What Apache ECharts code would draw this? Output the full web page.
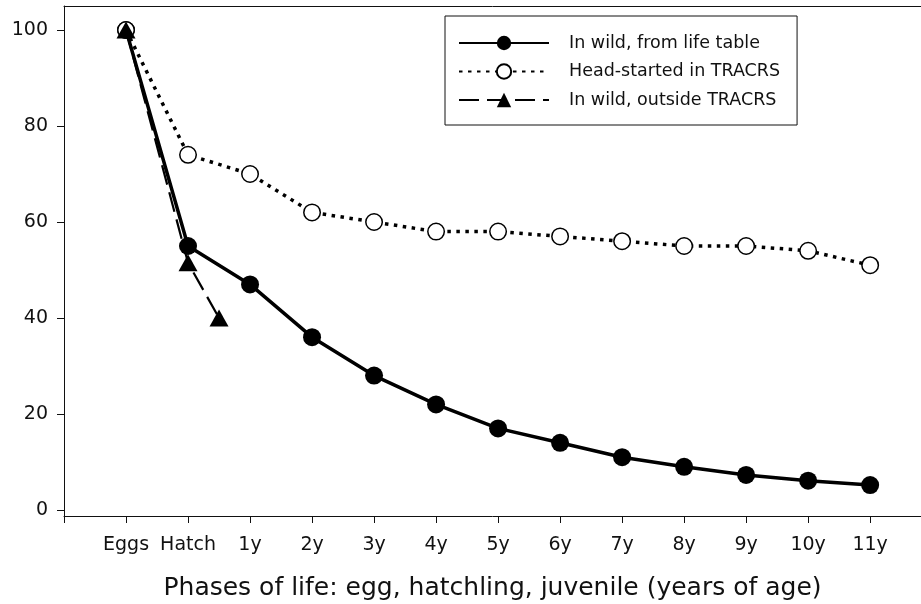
<!DOCTYPE html>
<html>
<head>
<meta charset="utf-8">
<title>Survival by phase of life</title>
<script src="https://cdn.jsdelivr.net/npm/echarts@6/dist/echarts.min.js"></script>
<style>
  html, body { margin: 0; padding: 0; background: #fff; }
  #chart { width: 921px; height: 604px; }
</style>
</head>
<body>
<div id="chart"></div>
<script>
// Phases of life shown along the x axis
const phases = ['Eggs', 'Hatch', '1y', '2y', '3y', '4y', '5y', '6y', '7y', '8y', '9y', '10y', '11y'];

// Survival (%) in the wild, from the life table
const wildLifeTable = [100, 55, 47, 36, 28, 22, 17, 14, 11, 9, 7.3, 6.1, 5.2];

// Survival (%) of head-started animals in TRACRS
const headStarted = [100, 74, 70, 62, 60, 58, 58, 57, 56, 55, 55, 54, 51];

// Survival (%) in the wild outside TRACRS (position along the phase axis, value)
const outsidePhasePos = [0, 1, 1.5];
const outsideSurvival = [100, 51.5, 40];

// Y axis tick values
const yTicks = [0, 20, 40, 60, 80, 100];

const FONT = 'DejaVu Sans';
const INK = '#111';

const phaseIdx = phases.map((_, i) => i);
const toPairs = (xs, ys) => ys.map((v, i) => [xs[i], v]);

const chart = echarts.init(document.getElementById('chart'), null, { renderer: 'canvas' });

chart.setOption({
  animation: false,
  backgroundColor: '#fff',
  // the frame runs past the right edge, so only left, bottom and top lines show
  grid: { left: 64, top: 6, right: 0, bottom: 88, outerBoundsMode: 'none', containLabel: false },
  legend: {
    orient: 'vertical',
    left: 445, top: 16,
    padding: [18, 17, 16, 13],
    itemWidth: 90, itemHeight: 18, itemGap: 10.5,
    borderColor: INK, borderWidth: 1,
    backgroundColor: '#fff',
    textStyle: { fontFamily: FONT, fontSize: 17.5, color: INK, padding: [0, 0, 0, 15], lineHeight: 18 },
    data: ['In wild, from life table', 'Head-started in TRACRS', 'In wild, outside TRACRS']
  },
  xAxis: [
    {
      type: 'value',
      min: -1, max: 12.82,
      name: 'Phases of life: egg, hatchling, juvenile (years of age)',
      nameLocation: 'middle',
      nameGap: 60,
      nameTextStyle: { fontFamily: FONT, fontSize: 25, color: INK },
      axisLine: { show: true, onZero: false, lineStyle: { color: INK, width: 1 } },
      axisTick: { show: true, length: 7, customValues: [-1].concat(phaseIdx), lineStyle: { color: INK } },
      axisLabel: {
        customValues: phaseIdx,
        margin: 20,
        fontFamily: FONT, fontSize: 19, color: INK,
        formatter: v => phases[Math.round(v)] || ''
      },
      splitLine: { show: false }
    },
    {
      // top frame line
      type: 'value',
      position: 'top',
      min: -1, max: 12.82,
      axisLine: { show: true, onZero: false, lineStyle: { color: INK, width: 1 } },
      axisTick: { show: false },
      axisLabel: { show: false },
      splitLine: { show: false }
    }
  ],
  yAxis: {
    type: 'value',
    min: -1.25, max: 105,
    axisLine: { show: true, onZero: false, lineStyle: { color: INK, width: 1 } },
    axisTick: { show: true, length: 7, customValues: yTicks, lineStyle: { color: INK } },
    axisLabel: {
      customValues: yTicks,
      margin: 16,
      fontFamily: FONT, fontSize: 19, color: INK
    },
    splitLine: { show: false }
  },
  series: [
    {
      name: 'In wild, from life table',
      type: 'line',
      data: toPairs(phaseIdx, wildLifeTable),
      symbol: 'circle', symbolSize: 18,
      itemStyle: { color: '#000' },
      lineStyle: { color: '#000', width: 3.5 },
      z: 2
    },
    {
      name: 'Head-started in TRACRS',
      type: 'line',
      data: toPairs(phaseIdx, headStarted),
      symbol: 'circle', symbolSize: 16.5,
      itemStyle: { color: '#fff', borderColor: '#000', borderWidth: 1.5 },
      lineStyle: { color: '#000', width: 3.5, type: [3.5, 5.5] },
      z: 3
    },
    {
      name: 'In wild, outside TRACRS',
      type: 'line',
      data: toPairs(outsidePhasePos, outsideSurvival),
      symbol: 'triangle', symbolSize: [19, 17],
      itemStyle: { color: '#000' },
      lineStyle: { color: '#000', width: 2.2, type: [20, 8] },
      z: 4
    }
  ]
});
</script>
</body>
</html>
